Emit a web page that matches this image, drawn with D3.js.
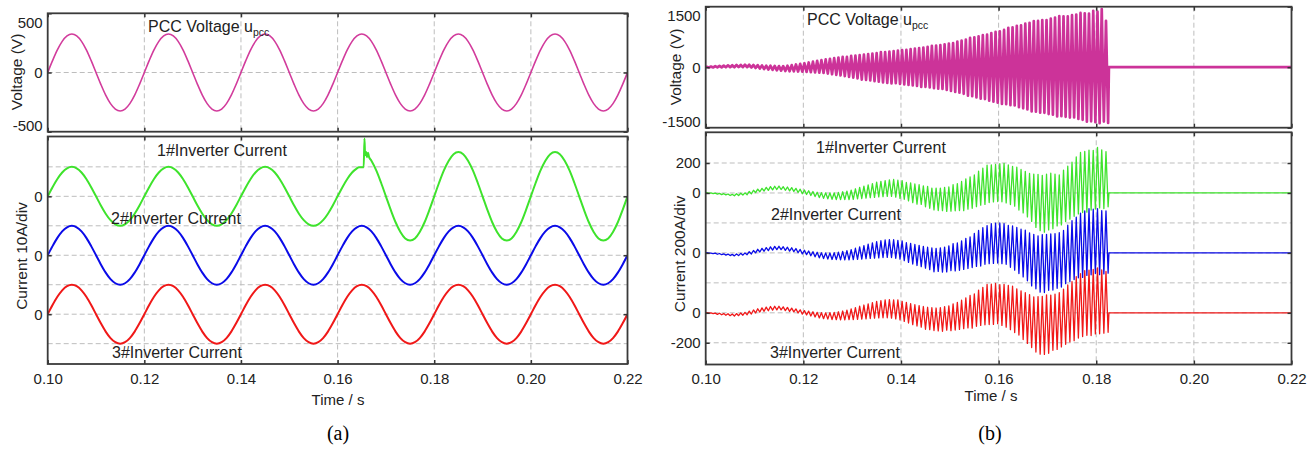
<!DOCTYPE html>
<html><head><meta charset="utf-8">
<script src="https://cdn.jsdelivr.net/npm/d3@7"></script>
<style>
html,body{margin:0;padding:0;background:#fff;}
svg{display:block;}
text{font-family:"Liberation Sans",Arial,Helvetica,sans-serif;fill:#222;}
text.serif{font-family:"Liberation Serif","Times New Roman",serif;fill:#000;}
</style></head><body>
<svg id="chart" width="1315" height="449"></svg>
<script>
// ---------------- DATA ----------------
const xTickValues = [0.10, 0.12, 0.14, 0.16, 0.18, 0.20, 0.22];
const xTickLabels = ["0.10", "0.12", "0.14", "0.16", "0.18", "0.20", "0.22"];
const xGridValues = [0.12, 0.14, 0.16, 0.18, 0.20];

// (a) sampled every 1 ms from 0.100 s to 0.220 s
const timeStartA = 0.10;
const sampleStepA = 0.001;
const voltageA = [
0,100,191,263,309,325,309,263,191,100,0,-100,-191,-263,-309,-325,-309,-263,-191,-100,
0,100,191,263,309,325,309,263,191,100,0,-100,-191,-263,-309,-325,-309,-263,-191,-100,
0,100,191,263,309,325,309,263,191,100,0,-100,-191,-263,-309,-325,-309,-263,-191,-100,
0,100,191,263,309,325,309,263,191,100,0,-100,-191,-263,-309,-325,-309,-263,-191,-100,
0,100,191,263,309,325,309,263,191,100,0,-100,-191,-263,-309,-325,-309,-263,-191,-100,
0,100,191,263,309,325,309,263,191,100,0,-100,-191,-263,-309,-325,-309,-263,-191,-100,
0];
const current1A = [
0,3.1,5.9,8.1,9.5,10,9.5,8.1,5.9,3.1,0,-3.1,-5.9,-8.1,-9.5,-10,-9.5,-8.1,-5.9,-3.1,
0,3.1,5.9,8.1,9.5,10,9.5,8.1,5.9,3.1,0,-3.1,-5.9,-8.1,-9.5,-10,-9.5,-8.1,-5.9,-3.1,
0,3.1,5.9,8.1,9.5,10,9.5,8.1,5.9,3.1,0,-3.1,-5.9,-8.1,-9.5,-10,-9.5,-8.1,-5.9,-3.1,
0,3.1,5.9,8.1,9.5,9.9,14.2,
12.1,8.8,4.6,0,-4.6,-8.8,-12.1,-14.3,-15,-14.3,-12.1,-8.8,-4.6,
0,4.6,8.8,12.1,14.3,15,14.3,12.1,8.8,4.6,0,-4.6,-8.8,-12.1,-14.3,-15,-14.3,-12.1,-8.8,-4.6,
0,4.6,8.8,12.1,14.3,15,14.3,12.1,8.8,4.6,0,-4.6,-8.8,-12.1,-14.3,-15,-14.3,-12.1,-8.8,-4.6,
0];
// extra samples of the switching transient of inverter 1 (time s, current A)
const current1ATransient = [[0.1644,9.9],[0.1654,9.9],[0.16556,19.6],[0.1657,13.9],[0.1659,15.0],[0.1661,13.3],[0.1663,14.8],[0.1665,13.4]];
const current2A = [
0,3.1,5.9,8.1,9.5,10,9.5,8.1,5.9,3.1,0,-3.1,-5.9,-8.1,-9.5,-10,-9.5,-8.1,-5.9,-3.1,
0,3.1,5.9,8.1,9.5,10,9.5,8.1,5.9,3.1,0,-3.1,-5.9,-8.1,-9.5,-10,-9.5,-8.1,-5.9,-3.1,
0,3.1,5.9,8.1,9.5,10,9.5,8.1,5.9,3.1,0,-3.1,-5.9,-8.1,-9.5,-10,-9.5,-8.1,-5.9,-3.1,
0,3.1,5.9,8.1,9.5,10,9.5,8.1,5.9,3.1,0,-3.1,-5.9,-8.1,-9.5,-10,-9.5,-8.1,-5.9,-3.1,
0,3.1,5.9,8.1,9.5,10,9.5,8.1,5.9,3.1,0,-3.1,-5.9,-8.1,-9.5,-10,-9.5,-8.1,-5.9,-3.1,
0,3.1,5.9,8.1,9.5,10,9.5,8.1,5.9,3.1,0,-3.1,-5.9,-8.1,-9.5,-10,-9.5,-8.1,-5.9,-3.1,
0];
const current3A = [
0,3.1,5.9,8.1,9.5,10,9.5,8.1,5.9,3.1,0,-3.1,-5.9,-8.1,-9.5,-10,-9.5,-8.1,-5.9,-3.1,
0,3.1,5.9,8.1,9.5,10,9.5,8.1,5.9,3.1,0,-3.1,-5.9,-8.1,-9.5,-10,-9.5,-8.1,-5.9,-3.1,
0,3.1,5.9,8.1,9.5,10,9.5,8.1,5.9,3.1,0,-3.1,-5.9,-8.1,-9.5,-10,-9.5,-8.1,-5.9,-3.1,
0,3.1,5.9,8.1,9.5,10,9.5,8.1,5.9,3.1,0,-3.1,-5.9,-8.1,-9.5,-10,-9.5,-8.1,-5.9,-3.1,
0,3.1,5.9,8.1,9.5,10,9.5,8.1,5.9,3.1,0,-3.1,-5.9,-8.1,-9.5,-10,-9.5,-8.1,-5.9,-3.1,
0,3.1,5.9,8.1,9.5,10,9.5,8.1,5.9,3.1,0,-3.1,-5.9,-8.1,-9.5,-10,-9.5,-8.1,-5.9,-3.1,
0];
const voltageATicks = [-500, 0, 500];
const voltageATickLabels = ["-500", "0", "500"];
const currentATicks = [-20, 0, 20];           // zero lines of traces 3, 2, 1
const currentATickLabels = ["0", "0", "0"];
const currentAGrid = [-30, -20, -10, 0, 10, 20, 30];
const currentAOffsets = [20, 0, -20];          // inverter 1, 2, 3 (10 A/div)

// (b) oscillation: per-cycle maxima / minima, one cycle every carrierPeriodB
const timeStartB = 0.10;
const carrierPeriodB = 0.00087;
const cutoffB = 0.1826;
const endTimeB = 0.22;
const voltageBHi = [9,16,25,32,40,46,50,54,58,61, 61,56,50,44,38,36,32,28,27,36, 52,68,83,98,117,137,157,176,193,209,
 224,240,255,258,279,289,302,313,325,336, 347,372,374,386,400,414,427,428,450,462, 473,486,503,532,534,549,565,587,598,634,
 659,685,728,740,767,794,806,848,875,891, 924,975,990,1024,1040,1078,1101,1145,1147,1168, 1170,1208,1229,1270,1262,1258,1289,1303,1345,1334,
 1330,1400,1380,1440,1150];
const voltageBLo = [-9,-7,-5,-4,-1,0,0,1,1,1, -8,-20,-34,-47,-60,-68,-77,-85,-94,-100, -103,-107,-111,-116,-123,-130,-137,-144,-158,-174,
 -189,-205,-220,-240,-259,-279,-310,-315,-330,-345, -361,-377,-390,-399,-398,-417,-427,-439,-450,-462, -488,-486,-503,-518,-534,-536,-565,-587,-611,-634,
 -659,-705,-720,-751,-781,-790,-831,-855,-878,-910, -917,-941,-950,-991,-1019,-1048,-1095,-1101,-1128,-1130, -1162,-1179,-1220,-1213,-1230,-1248,-1245,-1283,-1304,-1350,
 -1342,-1362,-1390,-1347,-1380];
const current1BHi = [2,0,-1,-3,-5,-7,-9,-5,-2,1, 10,18,26,31,37,42,45,46,42,40, 36,31,25,20,15,10,5,2,1,0,
 0,4,8,12,19,28,37,45,54,63, 72,78,83,87,90,85,82,70,68,60, 55,48,44,33,33,33,37,40,55,63,
 77,94,108,120,145,165,185,188,190,195, 198,187,178,172,157,144,130,126,124,118, 125,132,125,120,153,179,205,240,270,277,
 286,285,305,288,276];
const current1BLo = [-2,-5,-8,-11,-13,-17,-19,-17,-14,-12, -6,2,8,13,17,21,23,23,18,14, 10,3,-5,-10,-17,-24,-31,-36,-39,-42,
 -44,-44,-44,-44,-43,-40,-37,-35,-32,-29, -26,-24,-23,-23,-28,-36,-42,-53,-64,-74, -76,-92,-102,-113,-117,-118,-123,-121,-119,-117,
 -118,-108,-102,-91,-81,-76,-64,-60,-57,-59, -66,-77,-88,-114,-133,-160,-190,-230,-252,-262, -247,-239,-220,-213,-191,-175,-156,-140,-131,-128,
 -114,-107,-100,-104,-92];
const current2BHi = [1,-1,-2,-4,-6,-8,-10,-7,-3,0, 8,16,24,30,35,40,43,44,41,38, 34,29,23,18,13,8,4,1,0,-1,
 1,5,10,15,22,31,40,49,58,67, 75,81,86,89,88,84,80,68,64,56, 50,44,38,33,30,34,39,47,62,66,
 80,97,106,130,150,168,182,196,198,200, 196,184,180,170,158,152,134,124,114,122, 124,126,128,135,150,185,215,238,266,280,
 295,292,296,282,280];
const current2BLo = [-1,-5,-9,-12,-15,-18,-20,-18,-15,-12, -7,0,6,11,15,19,22,22,17,12, 8,1,-7,-12,-19,-26,-33,-38,-41,-44,
 -45,-46,-46,-46,-45,-43,-41,-39,-37,-35, -33,-31,-30,-31,-36,-42,-52,-63,-74,-84, -92,-102,-112,-126,-124,-128,-127,-118,-120,-116,
 -110,-104,-98,-90,-88,-76,-72,-70,-68,-72, -76,-96,-115,-138,-160,-186,-220,-240,-262,-265, -250,-248,-236,-228,-205,-190,-178,-166,-164,-150,
 -146,-138,-145,-140,-135];
const current3BHi = [2,0,-2,-3,-5,-6,-8,-5,-1,3, 11,19,27,33,38,42,44,44,40,36, 31,26,20,15,11,7,3,1,0,1,
 3,7,12,18,26,35,44,52,60,68, 76,82,86,88,86,86,77,70,62,54, 48,42,37,34,32,35,41,46,60,70,
 84,100,116,126,152,170,189,191,196,188, 190,183,178,160,147,134,122,106,108,110, 120,118,124,134,158,186,208,242,262,282,
 285,290,300,286,276];
const current3BLo = [-2,-6,-10,-13,-16,-19,-21,-19,-16,-13, -8,-1,5,10,14,18,20,20,15,10, 6,-1,-9,-14,-21,-28,-34,-39,-42,-45,
 -46,-47,-47,-46,-45,-44,-42,-40,-38,-36, -34,-33,-33,-35,-40,-47,-57,-68,-79,-88, -96,-110,-112,-118,-121,-123,-116,-119,-115,-111,
 -106,-101,-102,-90,-84,-80,-78,-77,-72,-84, -96,-112,-132,-148,-178,-204,-232,-262,-276,-278, -270,-250,-244,-228,-210,-194,-186,-168,-158,-150,
 -152,-141,-140,-136,-130];
const voltageBTicks = [-1500, 0, 1500];
const voltageBTickLabels = ["-1500", "0", "1500"];
const currentBTicks = [-600, -400, 0, 400, 600];
const currentBTickLabels = ["-200", "0", "0", "0", "200"];
const currentBGrid = [-600, -400, -200, 0, 200, 400, 600];
const currentBOffsets = [400, 0, -400];        // inverter 1, 2, 3 (200 A/div)

const seriesColors = {volt: "#d23c9c", voltB: "#cc3399", i1: "#3ee32c", i2: "#0b0be8", i3: "#f01818"};
const traceNames = ["1#Inverter Current", "2#Inverter Current", "3#Inverter Current"];

// ---------------- DRAW ----------------
const svg = d3.select("#chart");

function seriesA(values) { return values.map((v, i) => [timeStartA + i * sampleStepA, v]); }
function seriesB(hi, lo) {
  const pts = [[timeStartB, 0]];
  hi.forEach((h, i) => {
    pts.push([timeStartB + (i + 0.25) * carrierPeriodB, h]);
    pts.push([timeStartB + (i + 0.75) * carrierPeriodB, lo[i]]);
  });
  pts.push([cutoffB, 0]);
  pts.push([endTimeB, 0]);
  return pts;
}

let clipId = 0;
function panel(x, y, opt) {
  const g = svg.append("g");
  const [x0, x1] = x.range();
  const [yb, yt] = y.range();
  g.append("g").selectAll("line").data(xGridValues).join("line")
    .attr("x1", d => x(d)).attr("x2", d => x(d)).attr("y1", yt).attr("y2", yb)
    .attr("stroke", "#bdbdbd").attr("stroke-width", 1).attr("stroke-dasharray", "5,3");
  g.append("g").selectAll("line").data(opt.gridY).join("line")
    .attr("x1", x0).attr("x2", x1).attr("y1", d => y(d)).attr("y2", d => y(d))
    .attr("stroke", "#bdbdbd").attr("stroke-width", 1).attr("stroke-dasharray", "5,3");
  const id = "clip" + (clipId++);
  svg.append("clipPath").attr("id", id).append("rect")
    .attr("x", x0).attr("y", yt).attr("width", x1 - x0).attr("height", yb - yt);
  const traces = g.append("g").attr("clip-path", `url(#${id})`);
  opt.series.forEach(s => {
    const line = d3.line().x(d => x(d[0])).y(d => y(s.offset + d[1])).curve(s.curve);
    traces.append("path").datum(s.data).attr("d", line)
      .attr("fill", "none").attr("stroke", s.color).attr("stroke-width", s.width)
      .attr("stroke-linejoin", "round");
  });
  const yl = g.append("g").attr("transform", `translate(${x0},0)`)
    .call(d3.axisLeft(y).tickValues(opt.ticksY).tickFormat((d, i) => opt.tickLabelsY[i]).tickSize(-4).tickPadding(5));
  const yr = g.append("g").attr("transform", `translate(${x1},0)`)
    .call(d3.axisRight(y).tickValues(opt.ticksY).tickFormat("").tickSize(-4));
  const xt = g.append("g").attr("transform", `translate(0,${yt})`)
    .call(d3.axisTop(x).tickValues(xTickValues).tickFormat("").tickSize(-4));
  const xb = g.append("g").attr("transform", `translate(0,${yb})`)
    .call(d3.axisBottom(x).tickValues(xTickValues).tickFormat((d, i) => opt.showX ? xTickLabels[i] : "").tickSize(-4).tickPadding(9));
  [yl, yr, xt, xb].forEach(a => {
    a.select(".domain").remove();
    a.selectAll(".tick line").attr("stroke", "#333").attr("stroke-width", 1.5);
    a.selectAll("text").attr("font-size", 15).style("fill", "#222");
  });
  if (opt.edgeLabels) {
    yl.selectAll(".tick text").attr("dy", (d) => d === opt.ticksY[opt.ticksY.length - 1] ? "0.95em" : d === opt.ticksY[0] ? "-0.05em" : "0.32em");
  }
  g.append("rect").attr("x", x0).attr("y", yt).attr("width", x1 - x0).attr("height", yb - yt)
    .attr("fill", "none").attr("stroke", "#3a3a3a").attr("stroke-width", 1.8);
  return g;
}

function label(g, x, y, str, sub) {
  const t = g.append("text").attr("x", x).attr("y", y).attr("font-size", 16).text(str);
  if (sub) t.append("tspan").attr("font-size", 10.5).attr("dy", 4).text(sub);
  return t;
}
function yTitle(x, y, str) {
  svg.append("text").attr("transform", `translate(${x},${y}) rotate(-90)`)
    .attr("text-anchor", "middle").attr("font-size", 15.5).text(str);
}

// ---- (a) ----
const xA = d3.scaleLinear().domain([0.10, 0.22]).range([47.7, 627.5]);
const yAV = d3.scaleLinear().domain([-500, 500]).range([131.7, 13.3]);
const yAI = d3.scaleLinear().domain([-36.9, 40.3]).range([364, 136.5]);

const green1A = seriesA(current1A).concat(current1ATransient).sort((a, b) => a[0] - b[0]);

const pA1 = panel(xA, yAV, {
  gridY: [0], ticksY: voltageATicks, tickLabelsY: voltageATickLabels, showX: false, edgeLabels: true,
  series: [{data: seriesA(voltageA), offset: 0, color: seriesColors.volt, width: 1.6, curve: d3.curveMonotoneX}]
});
label(pA1, 148, 32, "PCC Voltage u", "pcc");

const pA2 = panel(xA, yAI, {
  gridY: currentAGrid, ticksY: currentATicks, tickLabelsY: currentATickLabels, showX: true,
  series: [
    {data: green1A, offset: currentAOffsets[0], color: seriesColors.i1, width: 2, curve: d3.curveMonotoneX},
    {data: seriesA(current2A), offset: currentAOffsets[1], color: seriesColors.i2, width: 2, curve: d3.curveMonotoneX},
    {data: seriesA(current3A), offset: currentAOffsets[2], color: seriesColors.i3, width: 2, curve: d3.curveMonotoneX}
  ]
});
label(pA2, 157, 156, traceNames[0]);
label(pA2, 111, 223.5, traceNames[1]);
label(pA2, 112, 358, traceNames[2]);

yTitle(22, 72, "Voltage (V)");
yTitle(26.5, 256, "Current 10A/div");
svg.append("text").attr("x", 338).attr("y", 405).attr("text-anchor", "middle").attr("font-size", 15).text("Time / s");
svg.append("text").attr("class", "serif").attr("x", 338).attr("y", 440).attr("text-anchor", "middle").attr("font-size", 20).text("(a)");

// ---- (b) ----
const xB = d3.scaleLinear().domain([0.10, 0.22]).range([705.7, 1291.5]);
const yBV = d3.scaleLinear().domain([-1500, 1500]).range([127.7, 6.7]);
const yBI = d3.scaleLinear().domain([-745, 805]).range([364.5, 132.3]);

const pB1 = panel(xB, yBV, {
  gridY: [0], ticksY: voltageBTicks, tickLabelsY: voltageBTickLabels, showX: false, edgeLabels: true,
  series: [{data: seriesB(voltageBHi, voltageBLo), offset: 0, color: seriesColors.voltB, width: 2.7, curve: d3.curveLinear}]
});
label(pB1, 807, 25, "PCC Voltage u", "pcc");

const pB2 = panel(xB, yBI, {
  gridY: currentBGrid, ticksY: currentBTicks, tickLabelsY: currentBTickLabels, showX: true,
  series: [
    {data: seriesB(current1BHi, current1BLo), offset: currentBOffsets[0], color: seriesColors.i1, width: 1.3, curve: d3.curveLinear},
    {data: seriesB(current2BHi, current2BLo), offset: currentBOffsets[1], color: seriesColors.i2, width: 1.3, curve: d3.curveLinear},
    {data: seriesB(current3BHi, current3BLo), offset: currentBOffsets[2], color: seriesColors.i3, width: 1.3, curve: d3.curveLinear}
  ]
});
label(pB2, 816, 153, traceNames[0]);
label(pB2, 771, 220, traceNames[1]);
label(pB2, 770, 358, traceNames[2]);

yTitle(681, 67, "Voltage (V)");
yTitle(685, 254, "Current 200A/div");
svg.append("text").attr("x", 991).attr("y", 401).attr("text-anchor", "middle").attr("font-size", 15).text("Time / s");
svg.append("text").attr("class", "serif").attr("x", 990).attr("y", 440).attr("text-anchor", "middle").attr("font-size", 20).text("(b)");
</script>
</body></html>
